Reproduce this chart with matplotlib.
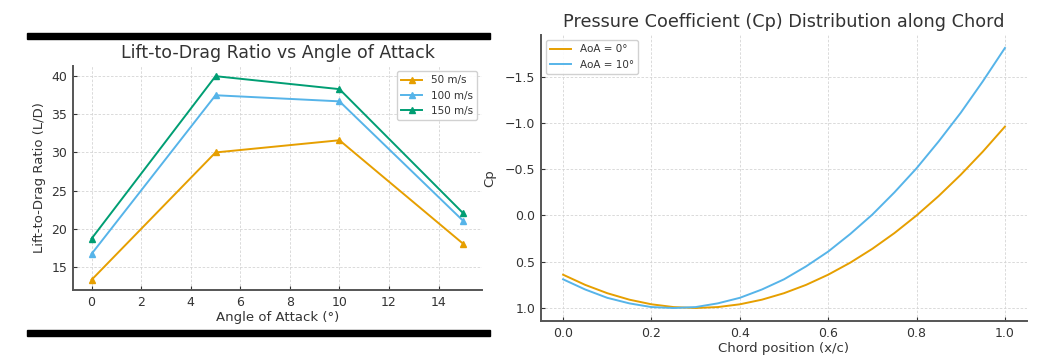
import numpy as np
import matplotlib
matplotlib.use("Agg")
import matplotlib.pyplot as plt
from matplotlib.patches import Rectangle

# Left panel: lift-to-drag ratio
aoa = [0, 5, 10, 15]
ld_50 = [13.3, 30.0, 31.6, 18.0]
ld_100 = [16.7, 37.5, 36.7, 21.0]
ld_150 = [18.7, 40.0, 38.3, 22.0]
speed_labels = ["50 m/s", "100 m/s", "150 m/s"]

# Right panel: Cp along chord
chord = [0.00, 0.05, 0.10, 0.15, 0.20, 0.25, 0.30, 0.35, 0.40, 0.45, 0.50,
         0.55, 0.60, 0.65, 0.70, 0.75, 0.80, 0.85, 0.90, 0.95, 1.00]
cp_aoa0 = [0.64, 0.75, 0.84, 0.91, 0.96, 0.99, 1.00, 0.99, 0.96, 0.91, 0.84,
           0.75, 0.64, 0.51, 0.36, 0.19, 0.00, -0.21, -0.44, -0.69, -0.96]
cp_aoa10 = [0.69, 0.80, 0.89, 0.95, 0.99, 1.00, 0.99, 0.95, 0.89, 0.80, 0.69,
            0.55, 0.39, 0.20, -0.01, -0.25, -0.51, -0.80, -1.11, -1.45, -1.81]
cp_labels = ["AoA = 0°", "AoA = 10°"]

ORANGE = "#E69F00"
BLUE = "#56B4E9"
GREEN = "#009E73"
TEXT = "#333333"
SPINE = "#555555"

plt.rcParams.update({
    "font.family": "DejaVu Sans",
    "text.color": TEXT,
    "axes.labelcolor": TEXT,
    "xtick.color": TEXT,
    "ytick.color": TEXT,
    "axes.edgecolor": SPINE,
})


def style(ax):
    ax.grid(True, linestyle=(0, (3, 2)), color="#d4d4d4", linewidth=0.6)
    ax.set_axisbelow(True)
    for s in ("top", "right"):
        ax.spines[s].set_visible(False)
    for s in ("left", "bottom"):
        ax.spines[s].set_linewidth(1.4)
    ax.tick_params(labelsize=9, length=3, width=0.8, direction="in",
                   pad=4, colors=TEXT)


fig = plt.figure(figsize=(10.5, 3.57), dpi=100)

# black bars framing the left panel
for y0 in (1 - 39 / 357, 1 - 336 / 357):
    fig.patches.append(Rectangle((27 / 1050, y0), 463 / 1050, 6 / 357,
                                 transform=fig.transFigure, color="black",
                                 zorder=5))

ax1 = fig.add_axes([73 / 1050, 1 - 290 / 357, 409 / 1050, 224 / 357])
for vals, col, lab in zip([ld_50, ld_100, ld_150], [ORANGE, BLUE, GREEN], speed_labels):
    ax1.plot(aoa, vals, color=col, marker="^", markersize=4, linewidth=1.4, label=lab)
style(ax1)
ax1.set_title("Lift-to-Drag Ratio vs Angle of Attack", fontsize=12.5, color=TEXT)
ax1.set_xlabel("Angle of Attack (°)", fontsize=9.5, labelpad=2)
ax1.set_ylabel("Lift-to-Drag Ratio (L/D)", fontsize=9.5, labelpad=4)
ax1.set_xticks(range(0, 16, 2))
ax1.legend(loc="upper right", fontsize=7.5, framealpha=0.9)

ax2 = fig.add_axes([541 / 1050, 1 - 321 / 357, 486 / 1050, 286 / 357])
ax2.plot(chord, cp_aoa0, color=ORANGE, linewidth=1.4, label=cp_labels[0])
ax2.plot(chord, cp_aoa10, color=BLUE, linewidth=1.4, label=cp_labels[1])
style(ax2)
ax2.invert_yaxis()
ax2.set_title("Pressure Coefficient (Cp) Distribution along Chord", fontsize=12.7, color=TEXT)
ax2.set_xlabel("Chord position (x/c)", fontsize=9.5, labelpad=2)
ax2.set_ylabel("Cp", fontsize=9.5, labelpad=6)
ax2.legend(loc="upper left", fontsize=7.5, framealpha=0.9)

fig.savefig("out.png", dpi=100)
plt.close(fig)
